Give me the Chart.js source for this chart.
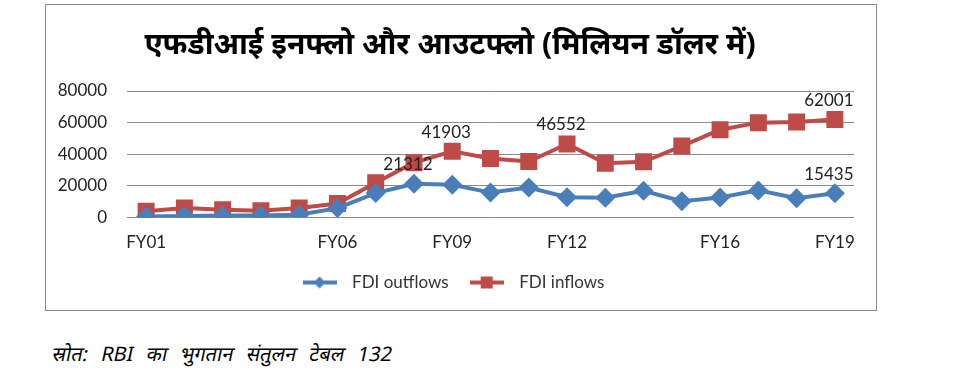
<!DOCTYPE html>
<html>
<head>
<meta charset="utf-8">
<script src="https://cdn.jsdelivr.net/npm/chart.js@4/dist/chart.umd.min.js"></script>
<style>
  body { margin: 0; background: #fff; width: 974px; height: 385px; position: relative; overflow: hidden; }
  #box { position: absolute; left: 45px; top: 4px; width: 830px; height: 305px; border: 1px solid #8c8c8c; }
  #source { position: absolute; left: 50px; top: 340px; font-family: "Noto Sans", sans-serif; font-size: 20px; color: #000;
    word-spacing: 8px; transform: skewX(-12deg); transform-origin: left bottom; }
</style>
</head>
<body>
<div id="box"><canvas id="myChart" width="830" height="305"></canvas></div>
<div id="source">स्रोत: RBI का भुगतान संतुलन टेबल 132</div>
<script>
// categories
var years = ["FY01", "FY02", "FY03", "FY04", "FY05", "FY06", "FY07", "FY08", "FY09", "FY10",
  "FY11", "FY12", "FY13", "FY14", "FY15", "FY16", "FY17", "FY18", "FY19"];
// only these ticks are shown on the x axis
var shownYears = ["FY01", "FY06", "FY09", "FY12", "FY16", "FY19"];

// values (million USD)
var fdiOutflows = [700, 1000, 1400, 1400, 1800, 6000, 15500, 21312, 20700, 15800,
  19000, 12900, 12500, 16900, 10300, 12700, 17200, 12300, 15435];
var fdiInflows = [4000, 6100, 5000, 4300, 6000, 8900, 22000, 34700, 41903, 37400,
  35400, 46552, 34300, 35300, 45200, 55500, 60000, 60400, 62001];

// points that carry a value label
var labelledOutflows = ["FY08", "FY19"];
var labelledInflows = ["FY09", "FY12", "FY19"];

var yTicks = [0, 20000, 40000, 60000, 80000];

var blue = "#4a7ebb";
var red = "#be4b48";
var tickFont = { family: "Lato, 'Open Sans', sans-serif", size: 17 };

// legend icon: short line with the marker in the middle
function legendIcon(color, style) {
  var c = document.createElement("canvas");
  c.width = 34; c.height = 14;
  var g = c.getContext("2d");
  g.strokeStyle = color; g.lineWidth = 4;
  g.beginPath(); g.moveTo(0, 7); g.lineTo(34, 7); g.stroke();
  g.fillStyle = color;
  if (style === "diamond") {
    g.beginPath(); g.moveTo(17, 1); g.lineTo(23, 7); g.lineTo(17, 13); g.lineTo(11, 7); g.closePath(); g.fill();
  } else {
    g.fillRect(11, 1, 12, 12);
  }
  return c;
}

// draws the value labels above the chosen points
var valueLabels = {
  id: "valueLabels",
  afterDatasetsDraw(chart) {
    var ctx = chart.ctx;
    var lists = [labelledOutflows, labelledInflows];
    ctx.save();
    ctx.font = "17px Lato, 'Open Sans', sans-serif";
    ctx.fillStyle = "#222";
    ctx.textAlign = "center";
    ctx.textBaseline = "middle";
    chart.data.datasets.forEach(function (ds, d) {
      var meta = chart.getDatasetMeta(d);
      lists[d].forEach(function (yr) {
        var i = years.indexOf(yr);
        var pt = meta.data[i];
        ctx.fillText(String(ds.data[i]), pt.x - 6, pt.y - 19);
      });
    });
    ctx.restore();
  }
};

const ctx = document.getElementById("myChart").getContext("2d");
var myChart = new Chart(ctx, {
  type: "line",
  data: {
    labels: years,
    datasets: [
      {
        label: "FDI outflows",
        data: fdiOutflows,
        borderColor: blue,
        backgroundColor: blue,
        borderWidth: 4,
        pointStyle: "rectRot",
        pointRadius: 10,
        pointHoverRadius: 10,
        pointBorderWidth: 0,
      },
      {
        label: "FDI inflows",
        data: fdiInflows,
        borderColor: red,
        backgroundColor: red,
        borderWidth: 4,
        pointStyle: "rect",
        pointRadius: 12,
        pointHoverRadius: 12,
        pointBorderWidth: 0,
      },
    ],
  },
  options: {
    responsive: false,
    animation: false,
    layout: { padding: { left: 0, right: 22, top: 0, bottom: 9 } },
    plugins: {
      title: {
        display: true,
        text: "एफडीआई इनफ्लो और आउटफ्लो (मिलियन डॉलर में)",
        color: "#000",
        font: { family: "'Noto Sans', sans-serif", size: 30, weight: "bold" },
        padding: { top: 22, bottom: 28 },
      },
      legend: {
        position: "bottom",
        labels: {
          usePointStyle: true,
          pointStyleWidth: 48,
          color: "#333",
          font: { family: "Lato, 'Open Sans', sans-serif", size: 17 },
          padding: 14,
          generateLabels: function (chart) {
            return chart.data.datasets.map(function (ds, i) {
              return {
                text: ds.label,
                pointStyle: legendIcon(ds.borderColor, i === 0 ? "diamond" : "square"),
                fillStyle: ds.borderColor,
                strokeStyle: ds.borderColor,
                lineWidth: 0,
                fontColor: "#333",
                datasetIndex: i,
              };
            });
          },
        },
      },
      tooltip: { enabled: false },
    },
    scales: {
      x: {
        offset: true,
        grid: { display: false },
        border: { display: false },
        ticks: {
          color: "#222",
          font: tickFont,
          autoSkip: false,
          maxRotation: 0,
          padding: 7,
          callback: function (v, i) {
            return shownYears.indexOf(years[i]) >= 0 ? years[i] : "";
          },
        },
      },
      y: {
        min: 0,
        max: 80000,
        afterBuildTicks: function (axis) {
          axis.ticks = yTicks.map(function (v) { return { value: v }; });
        },
        afterFit: function (axis) {
          axis.width = 81;
        },
        grid: { color: "#8c8c8c", lineWidth: 1, drawTicks: false },
        border: { display: false },
        ticks: {
          color: "#222",
          font: tickFont,
          padding: 20,
          callback: function (v) { return String(v); },
        },
      },
    },
  },
  plugins: [valueLabels],
});
</script>
</body>
</html>
